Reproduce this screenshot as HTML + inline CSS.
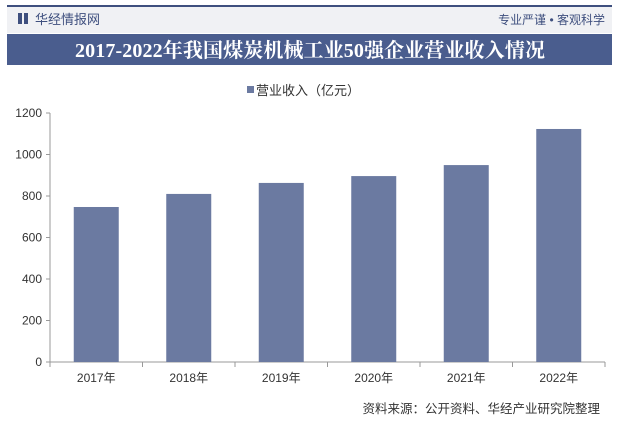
<!DOCTYPE html>
<html><head><meta charset="utf-8"><style>
body{margin:0;width:619px;height:432px;background:#fff;overflow:hidden;font-family:"Liberation Sans","Noto Sans CJK SC",sans-serif;}
</style></head><body>
<svg width="619" height="432" xmlns="http://www.w3.org/2000/svg">
<rect x="7" y="5" width="605" height="2" fill="#3e4f7e"/>
<rect x="7" y="7" width="605" height="26" fill="#f0f1f4"/>
<rect x="18" y="13" width="4" height="11" fill="#3e4f7e"/><rect x="24" y="13" width="4" height="11" fill="#3e4f7e"/>
<text x="35" y="24" font-size="13" fill="#3e4f7e">华经情报网</text>
<text x="605" y="24" font-size="12" fill="#3e4f7e" text-anchor="end">专业严谨 • 客观科学</text>
<rect x="7" y="34" width="605" height="31" fill="#4a5d8e"/>
<text x="310" y="57" font-size="20" font-weight="bold" fill="#fff" text-anchor="middle" textLength="470" font-family="'Liberation Serif','Noto Serif CJK SC',serif">2017-2022年我国煤炭机械工业50强企业营业收入情况</text>
<rect x="247" y="86" width="7" height="7" fill="#6b7aa1"/>
<text x="256" y="95" font-size="13" fill="#333">营业收入（亿元）</text>
<g id="axes"></g><g id="bars"></g>
<text x="600" y="413" font-size="12.5" fill="#333" text-anchor="end">资料来源：公开资料、华经产业研究院整理</text>
</svg>
<script>
const categories=["2017年","2018年","2019年","2020年","2021年","2022年"];
const values=[747,810,863,896,949,1123];
const yTicks=[0,200,400,600,800,1000,1200];
const NS="http://www.w3.org/2000/svg";
const x0=50,x1=605,yb=362,yt=113,ymax=1200;
const y=v=>yb-(v/ymax)*(yb-yt);
const bw=(x1-x0)/categories.length;
const ax=document.getElementById('axes'),bg=document.getElementById('bars');
function mk(t,a,p){const e=document.createElementNS(NS,t);for(const k in a)e.setAttribute(k,a[k]);p.appendChild(e);return e;}
let l=mk('line',{x1:x0,y1:yt,x2:x0,y2:yb,stroke:'#999'},ax);


l=mk('line',{x1:x0,y1:yb,x2:x1,y2:yb,stroke:'#999'},ax);


yTicks.forEach(v=>{
 mk('line',{x1:x0-4,y1:y(v),x2:x0,y2:y(v),stroke:'#999'},ax);
 const t=mk('text',{x:x0-8,y:y(v)+4,'font-size':12,fill:'#333','text-anchor':'end'},ax);t.textContent=v;
 
 
});
for(let i=0;i<=categories.length;i++)mk('line',{x1:x0+i*bw,y1:yb,x2:x0+i*bw,y2:yb+5,stroke:'#999'},ax);
categories.forEach((c,i)=>{
 const cx=x0+bw*(i+0.5);
 const r=mk('rect',{x:cx-22.5,y:y(values[i]),width:45,height:yb-y(values[i]),fill:'#6b7aa1'},bg);
 
 
 const t=mk('text',{x:cx,y:yb+20,'font-size':12,fill:'#333','text-anchor':'middle'},ax);t.textContent=c;
 
 
});
</script>
</body></html>
